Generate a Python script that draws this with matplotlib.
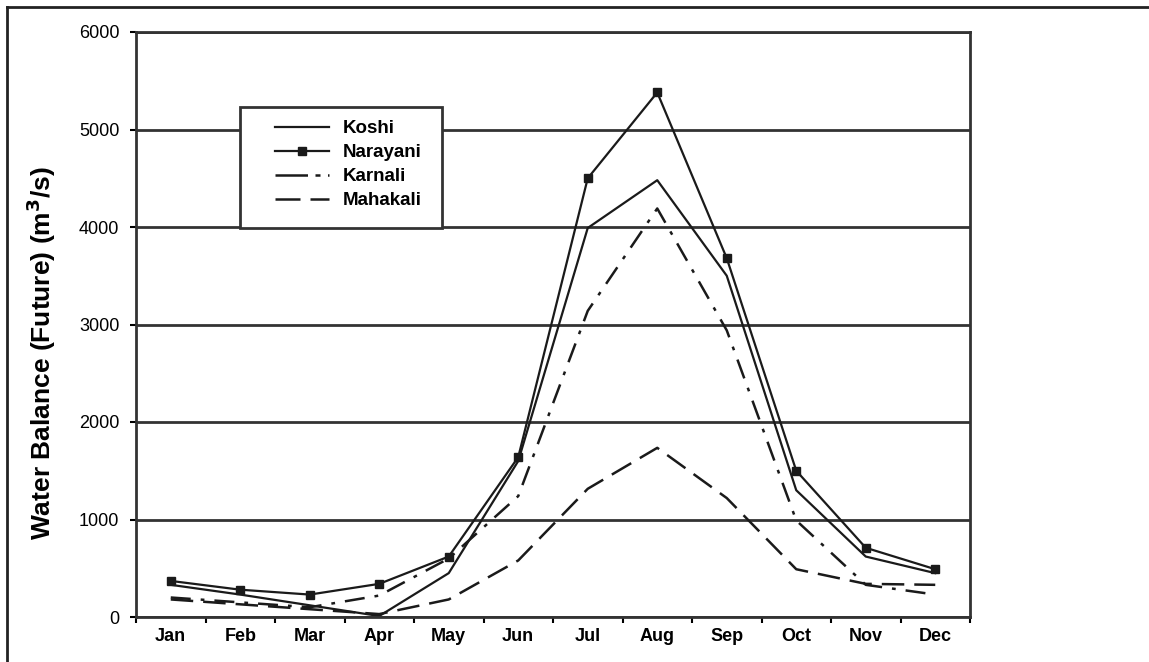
import matplotlib
matplotlib.use("Agg")
import matplotlib.pyplot as plt
from matplotlib.lines import Line2D
from matplotlib.patches import Rectangle
import numpy as np

plt.rcParams['font.family'] = ['Liberation Sans', 'DejaVu Sans']

months = ["Jan", "Feb", "Mar", "Apr", "May", "Jun", "Jul", "Aug", "Sep", "Oct", "Nov", "Dec"]
koshi = [330, 230, 120, 10, 450, 1600, 3990, 4480, 3500, 1300, 620, 450]
narayani = [370, 280, 230, 340, 620, 1640, 4500, 5380, 3680, 1500, 710, 490]
karnali = [200, 150, 100, 220, 600, 1240, 3140, 4190, 2940, 990, 330, 230]
mahakali = [180, 130, 80, 30, 180, 580, 1315, 1735, 1220, 490, 340, 330]
yticks = [0, 1000, 2000, 3000, 4000, 5000, 6000]

W, H = 1149, 662
fig = plt.figure(figsize=(W/100, H/100), dpi=100)
L, R, T, B = 136, 970, 32, 617
ax = fig.add_axes([L/W, 1 - B/H, (R-L)/W, (B-T)/H])

def axfrac(px, py):
    return ((px - L)/(R - L), (B - py)/(B - T))

x = np.arange(len(months))
c = '#1a1a1a'
ax.plot(x, koshi, color=c, lw=1.6, label='Koshi')
ax.plot(x, narayani, color=c, lw=1.6, marker='s', ms=6, label='Narayani')
ax.plot(x, karnali, color=c, lw=1.8, dashes=(8, 4, 1.5, 4), label='Karnali')
ax.plot(x, mahakali, color=c, lw=1.8, dashes=(9, 4), label='Mahakali')

ax.set_xlim(-0.5, 11.5)
ax.set_ylim(0, 6000)
ax.set_yticks(yticks)
ax.set_yticklabels([str(v) for v in yticks], fontsize=13)
ax.set_xticks(x)
ax.set_xticklabels(months, fontsize=13, fontweight='bold')
ax.set_xticks(np.arange(-0.5, 12, 1), minor=True)
ax.tick_params(axis='x', which='major', length=0, pad=8)
ax.tick_params(axis='x', which='minor', length=4, width=1.5, direction='out')
ax.tick_params(axis='y', length=4, width=1.5, direction='out', pad=8)
ax.yaxis.grid(True, color='#333333', lw=2)
ax.set_axisbelow(True)
for s in ax.spines.values():
    s.set_linewidth(2)
    s.set_color('#333333')

ax.set_ylabel('Water Balance (Future) (m$^{\\mathbf{3}}$/s)', fontsize=19, fontweight='bold')
ax.yaxis.set_label_coords(-0.093, 0.451)

# legend box
x0, y0 = axfrac(240, 228)
x1, y1 = axfrac(442, 107)
ax.add_patch(Rectangle((x0, y0), x1 - x0, y1 - y0, transform=ax.transAxes,
                       facecolor='white', edgecolor='#333333', lw=2, zorder=5))

handles = [
    Line2D([], [], color=c, lw=1.6),
    Line2D([], [], color=c, lw=1.6, marker='s', ms=6),
    Line2D([], [], color=c, lw=1.8, dashes=(13, 3, 2, 3)),
    Line2D([], [], color=c, lw=1.8, dashes=(10, 4)),
]
leg = ax.legend(handles, ['Koshi', 'Narayani', 'Karnali', 'Mahakali'],
                loc='upper left', bbox_to_anchor=axfrac(275, 120),
                prop={'weight': 'bold', 'size': 13.5}, frameon=False,
                borderpad=0, labelspacing=0.37,
                handlelength=2.9, handletextpad=0.7, borderaxespad=0)
leg.set_zorder(6)

# figure border (top and left)
fig.add_artist(Line2D([7/W, 7/W], [0, 1 - 7/H], transform=fig.transFigure, color='#222222', lw=2))
fig.add_artist(Line2D([7/W, 1], [1 - 7/H, 1 - 7/H], transform=fig.transFigure, color='#222222', lw=2))

fig.savefig('out.png', dpi=100)
